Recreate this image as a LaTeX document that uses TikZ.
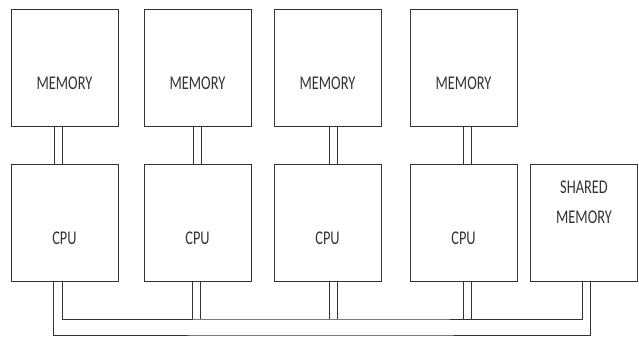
\documentclass[tikz,border=0pt]{standalone}
\usepackage{graphicx}
\usepackage{fontspec}
\newfontfamily\labelfont{Carlito}
\newcommand\tall[1]{\scalebox{1}[1.35]{#1}}
\begin{document}
\begin{tikzpicture}[x=1pt,y=-1pt,line width=1pt,color=black!80,
    box/.style={draw,minimum width=107pt,minimum height=117pt,inner sep=0pt,
      text height=43pt,text depth=0pt,font=\labelfont\fontsize{14.4}{17}\selectfont},
    link/.style={double,double distance=7pt}]
    \useasboundingbox (0,0) rectangle (639,338);
    \node (mem1) at (64.5,67.5) [box] {\tall{MEMORY}};
    \node (mem2) at (197.5,67.5) [box] {\tall{MEMORY}};
    \node (mem3) at (327.5,67.5) [box] {\tall{MEMORY}};
    \node (mem4) at (463.5,67.5) [box] {\tall{MEMORY}};
    \node (cpu1) at (64.5,222.5) [box] {\tall{CPU}};
    \node (cpu2) at (197.5,222.5) [box] {\tall{CPU}};
    \node (cpu3) at (327.5,222.5) [box] {\tall{CPU}};
    \node (cpu4) at (463.5,222.5) [box] {\tall{CPU}};
    \node (shared) at (584,222.5) [box,align=center,text height=30pt,text depth=29pt,
      font=\labelfont\fontsize{14.4}{30}\selectfont] {\tall{SHARED}\\\tall{MEMORY}};
    \draw[link] ([xshift=-6]mem1.south) -- ([xshift=-6]cpu1.north);
    \draw[link] (mem2.south) -- (cpu2.north);
    \draw[link] ([xshift=6]mem3.south) -- ([xshift=6]cpu3.north);
    \draw[link] ([xshift=4]mem4.south) -- ([xshift=4]cpu4.north);
    \coordinate (outer) at (320,335);
    \coordinate (inner) at (320,319);
    \draw[link] ([xshift=-1]cpu2.south) -- ([xshift=-1]cpu2.south |- inner);
    \draw[link] ([xshift=6]cpu3.south) -- ([xshift=6]cpu3.south |- inner);
    \draw[link] ([xshift=4]cpu4.south) -- ([xshift=4]cpu4.south |- inner);
    \draw ([xshift=-11.5]cpu1.south) |- (outer) -| ([xshift=6]shared.south);
    \draw ([xshift=-2.5]cpu1.south) |- (inner) -| ([xshift=-2]shared.south);
\end{tikzpicture}
\end{document}
